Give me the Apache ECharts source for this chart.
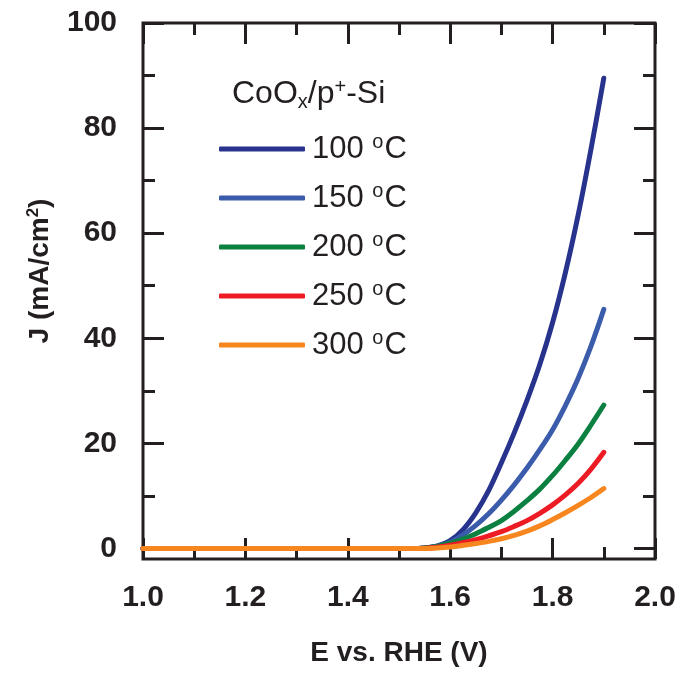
<!DOCTYPE html>
<html>

<head>
    <meta charset="utf-8" />
    <title>CoOx/p+-Si</title>
    <script src="https://cdn.jsdelivr.net/npm/echarts@6/dist/echarts.min.js"></script>
</head>

<body style="margin:0">
    <div id="main" style="width:685px;height:673px;"></div>
    <script type="text/javascript">
        // potential (V vs RHE) and current density (mA/cm2) for each anneal temperature
        var volts = [1.0, 1.1, 1.2, 1.3, 1.4, 1.5, 1.525, 1.55, 1.575, 1.6, 1.625, 1.65, 1.675, 1.7, 1.725, 1.75, 1.775, 1.8, 1.825, 1.85, 1.875, 1.9];
        var j100 = [0, 0, 0, 0, 0, 0, 0, 0.1, 0.5, 1.5, 3.6, 6.8, 11, 16.3, 22, 28.2, 35, 43, 52.5, 63.5, 76, 89.5];
        var j150 = [0, 0, 0, 0, 0, 0, 0, 0.1, 0.4, 1.2, 2.6, 4.4, 6.6, 9.2, 12.1, 15.3, 18.8, 22.6, 27.2, 32.4, 38.5, 45.5];
        var j200 = [0, 0, 0, 0, 0, 0, 0, 0.1, 0.4, 1.0, 1.8, 2.8, 4.0, 5.3, 7.1, 9.1, 11.3, 13.9, 16.8, 19.9, 23.5, 27.3];
        var j250 = [0, 0, 0, 0, 0, 0, 0, 0.05, 0.25, 0.6, 1.1, 1.7, 2.4, 3.2, 4.2, 5.3, 6.7, 8.3, 10.2, 12.4, 15.1, 18.3];
        var j300 = [0, 0, 0, 0, 0, 0, 0, 0, 0.1, 0.3, 0.6, 0.95, 1.35, 1.85, 2.5, 3.3, 4.3, 5.5, 6.8, 8.2, 9.7, 11.4];

        var names = ['100 °C', '150 °C', '200 °C', '250 °C', '300 °C'];
        var colors = ['#27338c', '#3b5bab', '#0b8040', '#ed1c24', '#f7861f'];
        var yMajor = [0, 20, 40, 60, 80, 100];
        var yMinor = [10, 30, 50, 70, 90];

        var font = 'Liberation Sans, Arial, sans-serif';
        var ink = '#231f20';

        var myChart = echarts.init(document.getElementById("main"));

        function pairs(ys) {
            var out = [];
            for (var i = 0; i < volts.length; i++) {
                out.push([volts[i], ys[i]]);
            }
            return out;
        }

        function makeSeries(idx, ys) {
            return {
                name: names[idx],
                type: 'line',
                data: pairs(ys),
                smooth: 0.35,
                showSymbol: false,
                color: colors[idx],
                lineStyle: { width: 5, color: colors[idx], cap: 'round', join: 'round' }
            };
        }

        // one y axis per tick set, so the left/right frames get long and short ticks
        function yAx(pos, ticks, len, labels) {
            return {
                type: 'value',
                position: pos,
                min: -2,
                max: 100,
                axisLine: { show: false },
                splitLine: { show: false },
                axisTick: {
                    show: true, inside: true, length: len, customValues: ticks,
                    lineStyle: { color: ink, width: 3 }
                },
                axisLabel: labels ? {
                    show: true, customValues: ticks, margin: 26,
                    fontFamily: font, fontWeight: 'bold', fontSize: 30, color: ink
                } : { show: false },
                name: (labels && pos == 'left') ? '{a|J (mA/cm}{s|2}{a|)}' : '',
                nameLocation: 'middle',
                nameGap: 84,
                nameTextStyle: {
                    padding: [0, 0, 0, 40],
                    rich: {
                        a: { fontFamily: font, fontWeight: 'bold', fontSize: 28, color: ink, lineHeight: 32 },
                        s: { fontFamily: font, fontWeight: 'bold', fontSize: 17, color: ink, lineHeight: 32, padding: [0, 0, 14, 0] }
                    }
                }
            };
        }

        function xAx(pos, labels) {
            return {
                type: 'value',
                position: pos,
                min: 1.0,
                max: 2.0,
                interval: 0.2,
                axisLine: { show: false, onZero: false },
                splitLine: { show: false },
                axisTick: { show: true, inside: true, length: 21, lineStyle: { color: ink, width: 3 } },
                minorTick: { show: true, splitNumber: 2, length: 12, lineStyle: { color: ink, width: 3 } },
                axisLabel: labels ? {
                    show: true, margin: 24,
                    fontFamily: font, fontWeight: 'bold', fontSize: 30, color: ink,
                    formatter: function (v) { return v.toFixed(1); }
                } : { show: false },
                name: labels ? 'E vs. RHE (V)' : '',
                nameLocation: 'middle',
                nameGap: 80,
                nameTextStyle: { fontFamily: font, fontWeight: 'bold', fontSize: 28, color: ink }
            };
        }

        var option = {
            animation: false,
            backgroundColor: '#ffffff',
            grid: {
                left: 143, right: 30, top: 23, bottom: 114,
                show: true, borderColor: ink, borderWidth: 3
            },
            title: {
                text: '{a|CoO}{sub|x}{a|/p}{sup|+}{a|-Si}',
                left: 227,
                top: 71,
                textStyle: {
                    fontWeight: 'normal',
                    rich: {
                        a: { fontFamily: font, fontWeight: 'normal', fontSize: 32, color: ink, lineHeight: 36 },
                        sub: { fontFamily: font, fontWeight: 'normal', fontSize: 20, color: ink, lineHeight: 36, padding: [17, 0, 0, 0] },
                        sup: { fontFamily: font, fontWeight: 'normal', fontSize: 20, color: ink, lineHeight: 36, padding: [0, 0, 14, 0] }
                    }
                }
            },
            legend: {
                orient: 'vertical',
                left: 214,
                top: 127,
                itemWidth: 86,
                itemHeight: 5,
                itemGap: 15,
                icon: 'roundRect',
                data: names,
                formatter: function (name) {
                    var p = name.split(' °');
                    return '{t|' + p[0] + ' }{s|o}{t|' + p[1] + '}';
                },
                textStyle: {
                    padding: [0, 0, 0, 2],
                    rich: {
                        t: { fontFamily: font, fontSize: 31, color: ink, lineHeight: 34 },
                        s: { fontFamily: font, fontSize: 20, color: ink, lineHeight: 34, padding: [0, 1, 14, 0] }
                    }
                }
            },
            xAxis: [xAx('bottom', true), xAx('top', false)],
            yAxis: [
                yAx('left', yMajor, 21, true),
                yAx('left', yMinor, 12, false),
                yAx('right', yMajor, 21, false),
                yAx('right', yMinor, 12, false)
            ],
            series: [
                makeSeries(0, j100),
                makeSeries(1, j150),
                makeSeries(2, j200),
                makeSeries(3, j250),
                makeSeries(4, j300)
            ]
        };
        myChart.setOption(option);
    </script>
</body>

</html>
